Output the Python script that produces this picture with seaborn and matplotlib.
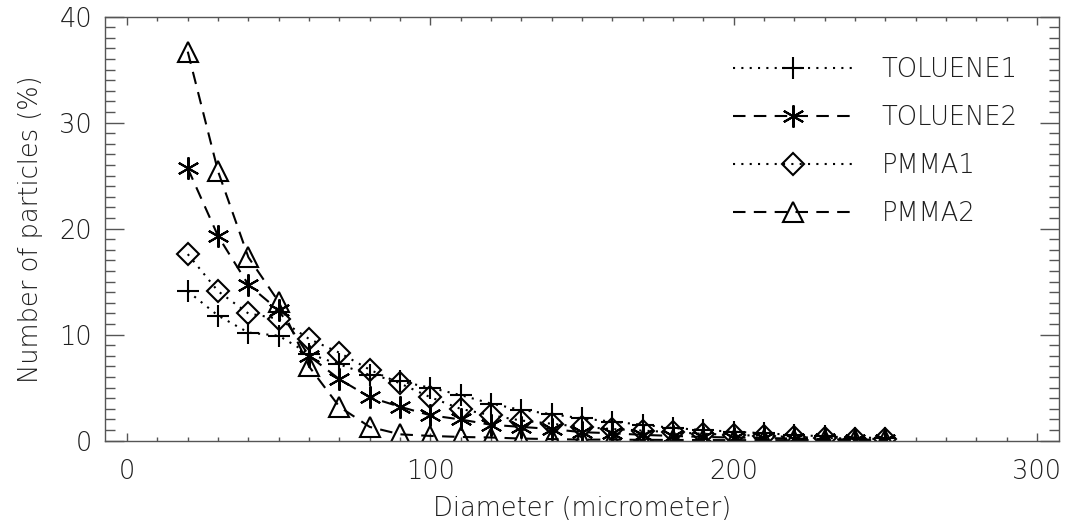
import numpy as np
import pandas as pd
import seaborn as sns
import matplotlib.pyplot as plt
from matplotlib.ticker import MultipleLocator

# diameters (micrometer)
diameter = [20, 30, 40, 50, 60, 70, 80, 90, 100, 110, 120, 130, 140, 150,
            160, 170, 180, 190, 200, 210, 220, 230, 240, 250]

# number of particles (%)
toluene1 = [14.1, 11.8, 10.2, 9.9, 8.2, 7.2, 6.2, 5.6, 5.0, 4.3, 3.5, 2.9, 2.5, 2.1,
            1.8, 1.5, 1.2, 1.0, 0.85, 0.7, 0.55, 0.4, 0.3, 0.25]
toluene2 = [25.7, 19.3, 14.7, 12.3, 8.0, 5.8, 4.1, 3.2, 2.4, 2.0, 1.5, 1.3, 1.1, 0.8,
            0.7, 0.55, 0.45, 0.35, 0.3, 0.25, 0.2, 0.15, 0.1, 0.1]
pmma1 = [17.6, 14.1, 12.0, 11.5, 9.6, 8.3, 6.7, 5.4, 4.1, 3.0, 2.4, 1.9, 1.6, 1.3,
         1.1, 0.95, 0.8, 0.65, 0.55, 0.45, 0.35, 0.25, 0.2, 0.15]
pmma2 = [36.7, 25.4, 17.3, 13.1, 7.0, 3.2, 1.3, 0.6, 0.45, 0.35, 0.3, 0.2, 0.15, 0.1,
         0.1, 0.08, 0.07, 0.06, 0.05, 0.05, 0.05, 0.05, 0.05, 0.05]

series_names = ["TOLUENE1", "TOLUENE2", "PMMA1", "PMMA2"]

df = pd.DataFrame({"diameter": diameter, "TOLUENE1": toluene1, "TOLUENE2": toluene2,
                   "PMMA1": pmma1, "PMMA2": pmma2})

sns.set_style("ticks")
plt.rcParams["font.family"] = ["DejaVu Sans"]
plt.rcParams["font.weight"] = "light"
text_col = "#1e1e1e"
fs = 18.5

fig = plt.figure(figsize=(10.67, 5.25), dpi=100)
ax = fig.add_axes([0.0981, 0.1606, 0.8944, 0.8076])

dotted = (0, (1, 3))
dashed = (0, (6, 4))
styles = {
    "TOLUENE1": dict(marker="+", linestyle=dotted, markersize=16),
    "TOLUENE2": dict(marker=(6, 2, 0), linestyle=dashed, markersize=16),
    "PMMA1": dict(marker="D", linestyle=dotted, markersize=11, fillstyle="none"),
    "PMMA2": dict(marker="^", linestyle=dashed, markersize=15, fillstyle="none"),
}

for name in series_names:
    sns.lineplot(data=df, x="diameter", y=name, ax=ax, color="black", linewidth=1.5,
                 markeredgewidth=1.5, markeredgecolor="black", label=name,
                 **styles[name])

ax.set_xlim(-7.4, 307.3)
ax.set_ylim(0, 40)
ax.xaxis.set_major_locator(MultipleLocator(100))
ax.xaxis.set_minor_locator(MultipleLocator(10))
ax.yaxis.set_major_locator(MultipleLocator(10))
ax.yaxis.set_minor_locator(MultipleLocator(1))

ax.tick_params(axis="x", which="major", direction="in", length=6, width=1,
               top=True, pad=13, labelsize=fs, labelcolor=text_col, color="#555555")
ax.tick_params(axis="x", which="minor", direction="in", length=3, width=1,
               top=True, color="#555555")
ax.tick_params(axis="y", which="major", direction="in", length=14, width=1,
               right=True, pad=9, labelsize=fs, labelcolor=text_col, color="#555555")
ax.tick_params(axis="y", which="minor", direction="in", length=7, width=1,
               right=True, color="#555555")
for sp in ax.spines.values():
    sp.set_color("#555555")
    sp.set_linewidth(1)

ax.set_xlabel("Diameter (micrometer)", fontsize=fs, color=text_col, labelpad=9,
              fontweight="light")
ax.set_ylabel("Number of particles (%)", fontsize=fs, color=text_col, labelpad=12,
              fontweight="light")

leg = ax.legend(loc="upper left", bbox_to_anchor=(0.658, 0.905), frameon=False,
                fontsize=fs, handlelength=4.7, handletextpad=1.1, labelspacing=0.9,
                borderpad=0, borderaxespad=0)
for t in leg.get_texts():
    t.set_color(text_col)

fig.savefig("out.png", dpi=100)
